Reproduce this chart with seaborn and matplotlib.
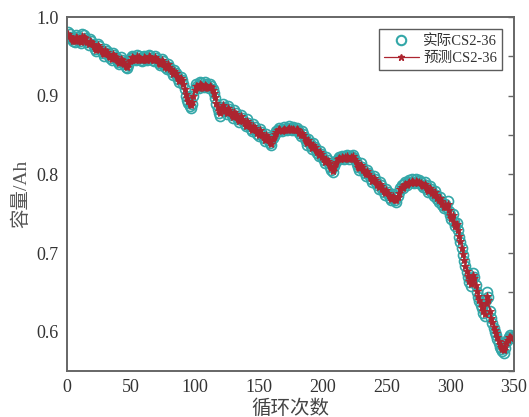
import numpy as np
import pandas as pd
import matplotlib
matplotlib.use("Agg")
import matplotlib.pyplot as plt
from matplotlib.ticker import MultipleLocator
from matplotlib.lines import Line2D
import seaborn as sns

cycles = np.arange(1, 351)

actual = [
    0.981, 0.978, 0.975, 0.972, 0.970, 0.968, 0.977, 0.975, 0.972, 0.969,
    0.967, 0.979, 0.977, 0.974, 0.971, 0.968, 0.965, 0.972, 0.969, 0.966,
    0.963, 0.960, 0.957, 0.966, 0.963, 0.960, 0.957, 0.954, 0.951, 0.960,
    0.957, 0.954, 0.951, 0.948, 0.946, 0.955, 0.952, 0.949, 0.946, 0.943,
    0.940, 0.949, 0.946, 0.943, 0.940, 0.937, 0.935, 0.939, 0.945, 0.948,
    0.951, 0.949, 0.947, 0.945, 0.952, 0.950, 0.948, 0.946, 0.944, 0.951,
    0.949, 0.947, 0.945, 0.952, 0.950, 0.948, 0.946, 0.944, 0.950, 0.948,
    0.945, 0.942, 0.939, 0.947, 0.944, 0.940, 0.937, 0.934, 0.941, 0.937,
    0.934, 0.930, 0.927, 0.933, 0.929, 0.925, 0.921, 0.918, 0.924, 0.920,
    0.915, 0.908, 0.900, 0.895, 0.891, 0.887, 0.884, 0.890, 0.900, 0.908,
    0.915, 0.913, 0.910, 0.918, 0.916, 0.913, 0.911, 0.917, 0.915, 0.912,
    0.910, 0.915, 0.912, 0.908, 0.903, 0.897, 0.889, 0.883, 0.878, 0.874,
    0.886, 0.890, 0.886, 0.881, 0.877, 0.887, 0.883, 0.879, 0.875, 0.872,
    0.882, 0.878, 0.874, 0.870, 0.867, 0.876, 0.872, 0.868, 0.864, 0.861,
    0.870, 0.866, 0.862, 0.858, 0.855, 0.864, 0.860, 0.856, 0.852, 0.849,
    0.858, 0.854, 0.850, 0.846, 0.843, 0.852, 0.848, 0.844, 0.840, 0.837,
    0.846, 0.849, 0.852, 0.855, 0.857, 0.859, 0.857, 0.855, 0.858, 0.860,
    0.858, 0.856, 0.859, 0.861, 0.859, 0.857, 0.860, 0.858, 0.856, 0.859,
    0.857, 0.853, 0.849, 0.855, 0.851, 0.846, 0.842, 0.838, 0.845, 0.840,
    0.836, 0.832, 0.840, 0.835, 0.831, 0.827, 0.823, 0.830, 0.826, 0.822,
    0.818, 0.815, 0.822, 0.818, 0.814, 0.810, 0.806, 0.803, 0.811, 0.814,
    0.817, 0.820, 0.822, 0.819, 0.824, 0.822, 0.820, 0.823, 0.825, 0.822,
    0.820, 0.824, 0.822, 0.825, 0.821, 0.817, 0.813, 0.809, 0.806, 0.814,
    0.810, 0.806, 0.802, 0.798, 0.806, 0.802, 0.798, 0.794, 0.790, 0.798,
    0.794, 0.790, 0.786, 0.782, 0.790, 0.786, 0.782, 0.778, 0.774, 0.781,
    0.778, 0.774, 0.770, 0.767, 0.775, 0.771, 0.767, 0.765, 0.772, 0.778,
    0.783, 0.786, 0.783, 0.788, 0.790, 0.787, 0.791, 0.793, 0.790, 0.794,
    0.791, 0.789, 0.794, 0.792, 0.789, 0.793, 0.790, 0.787, 0.784, 0.790,
    0.786, 0.782, 0.778, 0.785, 0.781, 0.777, 0.773, 0.779, 0.774, 0.769,
    0.765, 0.771, 0.766, 0.761, 0.757, 0.763, 0.758, 0.766, 0.754, 0.748,
    0.743, 0.750, 0.740, 0.734, 0.738, 0.729, 0.721, 0.714, 0.706, 0.698,
    0.690, 0.683, 0.676, 0.670, 0.663, 0.658, 0.667, 0.675, 0.670, 0.659,
    0.651, 0.644, 0.639, 0.634, 0.630, 0.624, 0.620, 0.640, 0.650, 0.644,
    0.627, 0.617, 0.611, 0.605, 0.600, 0.596, 0.591, 0.586, 0.581, 0.578,
    0.575, 0.573, 0.580, 0.587, 0.591, 0.594, 0.596, 0.592, 0.595, 0.592,
]

predicted = [
    0.978, 0.976, 0.974, 0.972, 0.970, 0.969, 0.975, 0.973, 0.971, 0.969,
    0.968, 0.976, 0.975, 0.973, 0.970, 0.968, 0.966, 0.970, 0.968, 0.966,
    0.963, 0.961, 0.958, 0.964, 0.962, 0.959, 0.957, 0.955, 0.953, 0.958,
    0.956, 0.953, 0.951, 0.949, 0.947, 0.953, 0.951, 0.949, 0.946, 0.944,
    0.942, 0.947, 0.945, 0.943, 0.940, 0.938, 0.937, 0.940, 0.944, 0.946,
    0.949, 0.948, 0.946, 0.945, 0.950, 0.949, 0.947, 0.946, 0.945, 0.949,
    0.948, 0.946, 0.945, 0.950, 0.949, 0.947, 0.946, 0.945, 0.949, 0.947,
    0.945, 0.942, 0.940, 0.945, 0.943, 0.940, 0.937, 0.935, 0.940, 0.937,
    0.934, 0.931, 0.928, 0.932, 0.929, 0.925, 0.922, 0.919, 0.923, 0.920,
    0.915, 0.909, 0.902, 0.897, 0.893, 0.890, 0.888, 0.892, 0.900, 0.907,
    0.912, 0.912, 0.910, 0.915, 0.914, 0.912, 0.910, 0.914, 0.913, 0.911,
    0.910, 0.913, 0.911, 0.907, 0.903, 0.898, 0.891, 0.886, 0.881, 0.878,
    0.885, 0.888, 0.885, 0.881, 0.878, 0.885, 0.882, 0.879, 0.876, 0.873,
    0.880, 0.877, 0.874, 0.871, 0.868, 0.874, 0.871, 0.868, 0.865, 0.862,
    0.868, 0.865, 0.862, 0.859, 0.856, 0.862, 0.859, 0.856, 0.853, 0.850,
    0.856, 0.853, 0.850, 0.847, 0.844, 0.850, 0.847, 0.844, 0.841, 0.839,
    0.845, 0.848, 0.851, 0.854, 0.856, 0.858, 0.856, 0.855, 0.857, 0.858,
    0.857, 0.856, 0.858, 0.859, 0.858, 0.856, 0.858, 0.857, 0.856, 0.858,
    0.856, 0.853, 0.850, 0.853, 0.850, 0.846, 0.843, 0.840, 0.844, 0.840,
    0.837, 0.833, 0.838, 0.835, 0.831, 0.828, 0.825, 0.829, 0.826, 0.822,
    0.819, 0.816, 0.820, 0.817, 0.814, 0.811, 0.808, 0.805, 0.810, 0.813,
    0.816, 0.819, 0.821, 0.819, 0.822, 0.821, 0.820, 0.822, 0.823, 0.821,
    0.820, 0.822, 0.821, 0.823, 0.820, 0.817, 0.814, 0.810, 0.808, 0.812,
    0.809, 0.806, 0.803, 0.800, 0.804, 0.801, 0.798, 0.795, 0.792, 0.796,
    0.793, 0.790, 0.787, 0.784, 0.788, 0.785, 0.782, 0.779, 0.776, 0.780,
    0.777, 0.774, 0.771, 0.769, 0.773, 0.770, 0.768, 0.767, 0.771, 0.776,
    0.781, 0.784, 0.783, 0.786, 0.788, 0.787, 0.789, 0.791, 0.789, 0.792,
    0.790, 0.789, 0.792, 0.790, 0.789, 0.791, 0.789, 0.787, 0.785, 0.788,
    0.785, 0.782, 0.779, 0.783, 0.780, 0.777, 0.774, 0.778, 0.774, 0.770,
    0.767, 0.770, 0.766, 0.762, 0.758, 0.762, 0.758, 0.763, 0.755, 0.749,
    0.745, 0.748, 0.740, 0.735, 0.737, 0.729, 0.722, 0.715, 0.707, 0.699,
    0.691, 0.684, 0.677, 0.671, 0.665, 0.661, 0.666, 0.672, 0.668, 0.660,
    0.652, 0.646, 0.641, 0.636, 0.632, 0.627, 0.623, 0.636, 0.645, 0.641,
    0.627, 0.618, 0.612, 0.606, 0.602, 0.598, 0.593, 0.588, 0.584, 0.581,
    0.578, 0.577, 0.582, 0.587, 0.590, 0.593, 0.594, 0.592, 0.594, 0.592,
]

series_labels = ["实际CS2-36", "预测CS2-36"]
x_label = "循环次数"
y_label = "容量/Ah"

df = pd.DataFrame({"cycle": cycles, "actual": actual, "predicted": predicted})

sns.set_theme(style="white")
plt.rcParams["font.family"] = ["Liberation Serif", "Noto Sans CJK SC"]
plt.rcParams["axes.unicode_minus"] = False

teal = "#33a7a8"
red = "#ad2530"
spine_c = "#666666"

fig = plt.figure(figsize=(5.29, 4.17), dpi=100)
ax = fig.add_axes([0.1267, 0.110, 0.8449, 0.849])

sns.lineplot(data=df, x="cycle", y="actual", ax=ax, linestyle="none",
             marker="o", markersize=7.2, markerfacecolor="none",
             markeredgecolor=teal, markeredgewidth=1.2, color=teal)
sns.lineplot(data=df, x="cycle", y="predicted", ax=ax, color=red,
             linewidth=1.0, marker="*", markersize=6,
             markeredgecolor=red, markerfacecolor=red, markeredgewidth=0.6)

ax.set_xlim(0, 350)
ax.set_ylim(0.55, 1.0)
ax.xaxis.set_major_locator(MultipleLocator(50))
ax.yaxis.set_major_locator(MultipleLocator(0.1))
ax.yaxis.set_minor_locator(MultipleLocator(0.05))
ax.set_yticks([0.6, 0.7, 0.8, 0.9, 1.0])
ax.set_yticklabels(["0.6", "0.7", "0.8", "0.9", "1.0"])

ax.tick_params(axis="both", which="both", direction="in", colors=spine_c,
               labelcolor="#333333", labelsize=13, width=1.0)
ax.tick_params(axis="both", which="major", length=4, pad=6)
ax.tick_params(axis="y", which="minor", length=4)
ax.tick_params(axis="y", which="both", right=True)

for s in ax.spines.values():
    s.set_color(spine_c)
    s.set_linewidth(1.4)
    s.set_visible(True)

ax.set_xlabel(x_label, fontsize=14, color="#444444", labelpad=2)
ax.set_ylabel(y_label, fontsize=14, color="#555555", labelpad=4)

handles = [
    Line2D([], [], linestyle="none", marker="o", markersize=6.8,
           markerfacecolor="none", markeredgecolor=teal, markeredgewidth=1.5),
    Line2D([], [], color=red, linewidth=0.9, marker="*", markersize=5,
           markeredgecolor=red, markerfacecolor=red),
]
leg = ax.legend(handles, series_labels, loc="upper right", fontsize=10.5,
                frameon=True, fancybox=False, edgecolor="#333333",
                borderaxespad=0.8, handlelength=2.4, handletextpad=0.3,
                borderpad=0.35, labelspacing=0.3)
leg.get_frame().set_linewidth(1.0)
for t in leg.get_texts():
    t.set_color("#333333")

fig.savefig("out.png", dpi=100)
